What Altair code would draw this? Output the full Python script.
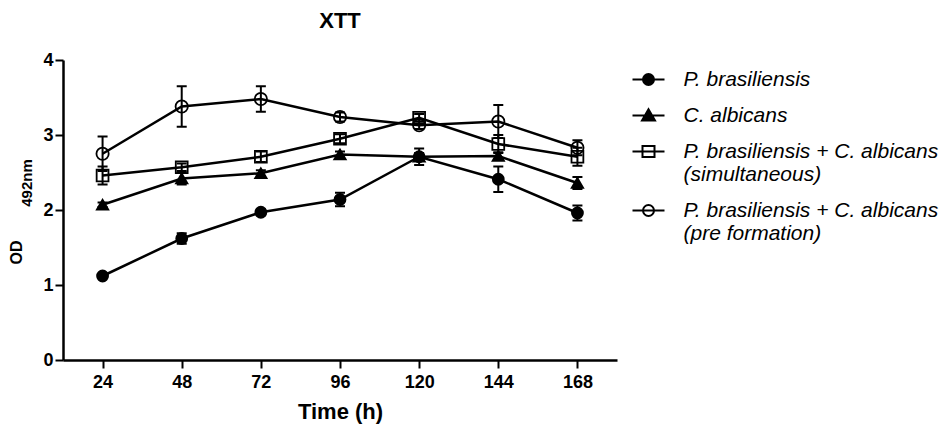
import altair as alt
import pandas as pd

FONT = "Liberation Sans"

hours = [24, 48, 72, 96, 120, 144, 168]

series_keys = ["pb", "ca", "sim", "pre"]
series_labels = [
    ["P. brasiliensis"],
    ["C. albicans"],
    ["P. brasiliensis + C. albicans", "(simultaneous)"],
    ["P. brasiliensis + C. albicans", "(pre formation)"],
]

pb_vals = [1.12, 1.62, 1.97, 2.14, 2.71, 2.41, 1.96]
pb_err = [0.03, 0.07, 0.04, 0.09, 0.05, 0.17, 0.10]
ca_vals = [2.07, 2.42, 2.49, 2.74, 2.71, 2.72, 2.36]
ca_err = [0.03, 0.08, 0.04, 0.04, 0.11, 0.05, 0.08]
sim_vals = [2.46, 2.57, 2.71, 2.95, 3.23, 2.88, 2.71]
sim_err = [0.12, 0.05, 0.07, 0.06, 0.05, 0.12, 0.12]
pre_vals = [2.75, 3.38, 3.48, 3.24, 3.13, 3.18, 2.83]
pre_err = [0.23, 0.27, 0.17, 0.06, 0.05, 0.22, 0.10]

y_ticks = [0, 1, 2, 3, 4]

rows = []
for key, vals, errs in zip(series_keys,
                           [pb_vals, ca_vals, sim_vals, pre_vals],
                           [pb_err, ca_err, sim_err, pre_err]):
    for h, v, e in zip(hours, vals, errs):
        rows.append({"series": key, "hours": h, "od": v, "lo": v - e, "hi": v + e})
df = pd.DataFrame(rows)

# legend symbol paths (line + marker), unit = 5 px
LINE = "M-3.2,0H3.2"
P_CIRCLE = "M1.1,0A1.1,1.1,0,1,1,-1.1,0A1.1,1.1,0,1,1,1.1,0Z"
P_TRI = "M0,-1.25L1.3,1L-1.3,1Z"
P_SQ = "M-1.2,-1.1H1.2V1.1H-1.2Z"
leg_paths = [LINE + P_CIRCLE, LINE + P_TRI, LINE + P_SQ, LINE + P_CIRCLE]
leg_fills = ["black", "black", "white", "white"]

# label expression built from the label lists
label_expr = "[" + ",".join("'" + l + "'" for l in series_labels[-1]) + "]"
for k, lab in reversed(list(zip(series_keys[:-1], series_labels[:-1]))):
    arr = "[" + ",".join("'" + l + "'" for l in lab) + "]"
    label_expr = "datum.value === '%s' ? %s : (%s)" % (k, arr, label_expr)

x_scale = alt.Scale(domain=[12, 180], nice=False, zero=False)
y_scale = alt.Scale(domain=[0, 4], nice=False)

x_axis = alt.Axis(values=hours, title="Time (h)", titleFontSize=22, titleFont=FONT,
                  titleFontWeight="bold", titleBaseline="alphabetic", titleY=58,
                  labelFontSize=18, labelFont=FONT, labelFontWeight="bold",
                  labelPadding=5, tickSize=8)
y_axis = alt.Axis(values=y_ticks, title="OD", titleFontSize=16, titleFont=FONT,
                  titleFontWeight="bold", titleAngle=270, titleAlign="center",
                  titleBaseline="alphabetic", titleX=-42, titleY=192,
                  labelFontSize=18, labelFont=FONT, labelFontWeight="bold",
                  labelPadding=2, tickSize=8, format="d")

base = alt.Chart(df)

lines = base.mark_line(strokeWidth=2.5, color="black").encode(
    x=alt.X("hours:Q", scale=x_scale, axis=x_axis),
    y=alt.Y("od:Q", scale=y_scale, axis=y_axis),
    detail="series:N",
)

err_rule = base.mark_rule(color="black", strokeWidth=2).encode(
    x="hours:Q", y="lo:Q", y2="hi:Q")
cap_hi = base.mark_rule(color="black", strokeWidth=2, xOffset=-5, x2Offset=5).encode(
    x="hours:Q", x2="hours:Q", y="hi:Q")
cap_lo = base.mark_rule(color="black", strokeWidth=2, xOffset=-5, x2Offset=5).encode(
    x="hours:Q", x2="hours:Q", y="lo:Q")

points = base.mark_point(filled=True, stroke="black", strokeWidth=1.8, opacity=1).encode(
    x="hours:Q",
    y="od:Q",
    shape=alt.Shape("series:N", scale=alt.Scale(domain=series_keys,
                    range=["circle", "triangle-up", "square", "circle"]), legend=None),
    fill=alt.Fill("series:N", scale=alt.Scale(domain=series_keys,
                  range=["black", "black", "transparent", "transparent"]), legend=None),
    size=alt.Size("series:N", scale=alt.Scale(domain=series_keys,
                  range=[121, 150, 121, 110]), legend=None),
)

leg_props = dict(
    title=None, orient="none", legendX=575, legendY=9,
    padding=0, symbolSize=100, labelOffset=24.5,
    labelFont=FONT, labelFontSize=21, labelFontStyle="italic",
    labelColor="black", labelLimit=500, rowPadding=14,
    labelBaseline="middle", labelExpr=label_expr,
    symbolStrokeWidth=2, symbolOpacity=1,
)

legend_layer = base.transform_filter("false").mark_point(
    filled=False, strokeWidth=2, size=100, opacity=1).encode(
    x="hours:Q",
    y="od:Q",
    shape=alt.Shape("series:N", scale=alt.Scale(domain=series_keys, range=leg_paths),
                    sort=series_keys, legend=alt.Legend(**leg_props)),
    fill=alt.Fill("series:N", scale=alt.Scale(domain=series_keys, range=leg_fills),
                  sort=series_keys, legend=alt.Legend(**leg_props)),
    stroke=alt.Stroke("series:N", scale=alt.Scale(domain=series_keys, range=["black"] * 4),
                      sort=series_keys, legend=alt.Legend(**leg_props)),
)

sub_df = pd.DataFrame({"t": ["492nm"]})
subscript = alt.Chart(sub_df).mark_text(
    angle=270, align="center", baseline="alphabetic", fontSize=15,
    fontWeight="bold", font=FONT, color="black", x=-31, y=123,
).encode(text="t:N")

title_df = pd.DataFrame({"t": ["XTT"]})
title = alt.Chart(title_df).mark_text(
    align="center", baseline="alphabetic", fontSize=22,
    fontWeight="bold", font=FONT, color="black", x=277, y=-32,
).encode(text="t:N")

chart = alt.layer(lines, err_rule, cap_hi, cap_lo, points, legend_layer,
                  subscript, title).resolve_scale(
    shape="independent", fill="independent", size="independent", stroke="independent"
).properties(
    width=554, height=300,
    autosize=alt.AutoSizeParams(type="none"),
    padding={"left": 55, "top": 52, "right": 325, "bottom": 64},
).configure_view(stroke=None).configure_axis(
    grid=False, domainColor="black", domainWidth=2.5, tickColor="black",
    tickWidth=2, labelColor="black", titleColor="black",
)

chart.save("out.html", embed_options={"renderer": "svg", "actions": False})
